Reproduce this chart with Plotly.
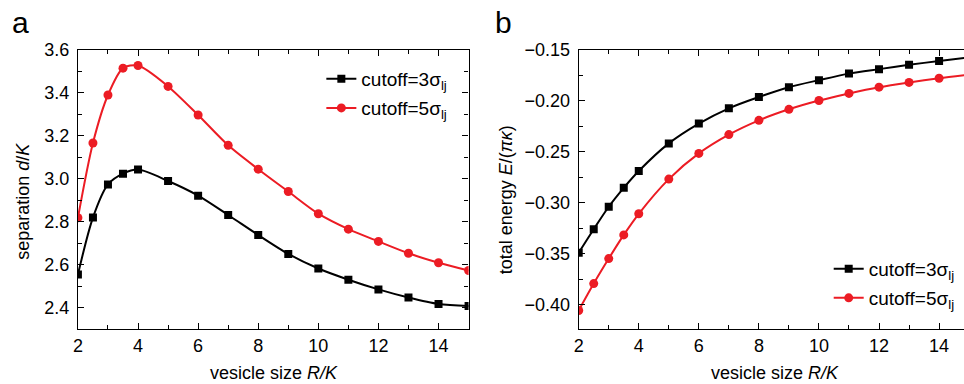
import plotly.graph_objects as go

# ---- data ----
R = [2, 2.5, 3, 3.5, 4, 5, 6, 7, 8, 9, 10, 11, 12, 13, 14, 15]

sep_3 = [2.554, 2.819, 2.973, 3.023, 3.042, 2.989, 2.921, 2.831, 2.738, 2.650,
         2.582, 2.530, 2.485, 2.447, 2.417, 2.408]
sep_5 = [2.818, 3.166, 3.389, 3.514, 3.526, 3.429, 3.296, 3.155, 3.044, 2.940,
         2.837, 2.765, 2.708, 2.653, 2.609, 2.573]

en_3 = [-0.349, -0.326, -0.304, -0.2855, -0.269, -0.2419, -0.2225, -0.2075,
        -0.1964, -0.1868, -0.1799, -0.1735, -0.1691, -0.1649, -0.1611, -0.1575]
en_5 = [-0.4057, -0.3793, -0.3548, -0.3316, -0.3109, -0.2769, -0.2517, -0.2333,
        -0.2193, -0.2085, -0.1999, -0.1929, -0.1868, -0.1821, -0.1780, -0.1745]

name_3 = "cutoff=3σ<sub>lj</sub>"
name_5 = "cutoff=5σ<sub>lj</sub>"

BLACK = "#000000"
RED = "#ec1c24"
FONT = "Liberation Sans, Arial, sans-serif"
W, H = 964, 384

fig = go.Figure()

def add(x, y, name, color, symbol, size, xa, ya, leg):
    fig.add_trace(go.Scatter(
        x=x, y=y, name=name, mode="lines+markers",
        line=dict(color=color, width=2, shape="spline", smoothing=0.8),
        marker=dict(symbol=symbol, size=size, color=color),
        xaxis=xa, yaxis=ya, legend=leg, cliponaxis=True))

add(R, sep_3, name_3, BLACK, "square", 8, "x", "y", "legend")
add(R, sep_5, name_5, RED, "circle", 9, "x", "y", "legend2")
add(R, en_3, name_3, BLACK, "square", 8, "x2", "y2", "legend3")
add(R, en_5, name_5, RED, "circle", 9, "x2", "y2", "legend4")

def px_x(p):
    return p / W

def px_y(p):
    return 1 - p / H

ydom = [px_y(327.7), px_y(40.7)]

axis_common = dict(
    showline=True, linecolor="black", linewidth=1.2,
    ticks="inside", ticklen=6, tickwidth=1, tickcolor="black",
    showgrid=False, zeroline=False,
    tickfont=dict(family=FONT, size=18, color="black"),
)

fig.update_layout(
    width=W, height=H,
    margin=dict(l=0, r=0, t=0, b=0),
    paper_bgcolor="white", plot_bgcolor="white",
    font=dict(family=FONT, size=18, color="black"),
    xaxis=dict(domain=[px_x(73.3), px_x(466)], range=[2, 15], dtick=2, tick0=2,
               mirror="allticks", anchor="y", ticklabelstandoff=0,
               minor=dict(dtick=1, ticklen=4, ticks="inside", tickcolor="black"),
               **axis_common),
    yaxis=dict(domain=ydom, range=[2.3, 3.6], dtick=0.2, tick0=2.4, tickformat=".1f",
               mirror="allticks", anchor="x", ticklabelstandoff=4,
               minor=dict(dtick=0.1, ticklen=4, ticks="inside", tickcolor="black"),
               **axis_common),
    xaxis2=dict(domain=[px_x(576.7), 1.0], range=[2, 14.83], dtick=2, tick0=2,
                mirror="allticks", anchor="y2", ticklabelstandoff=0,
                minor=dict(dtick=1, ticklen=4, ticks="inside", tickcolor="black"),
                **axis_common),
    yaxis2=dict(domain=ydom, range=[-0.424, -0.15], dtick=0.05, tick0=-0.4, tickformat=".2f",
                mirror=False, anchor="x2", ticklabelstandoff=4,
                minor=dict(dtick=0.025, ticklen=4, ticks="inside", tickcolor="black"),
                **axis_common),
    showlegend=True,
)

def leg(xp, yp):
    return dict(x=px_x(xp), y=px_y(yp), xanchor="left", yanchor="middle",
                bgcolor="rgba(0,0,0,0)", borderwidth=0,
                font=dict(family=FONT, size=19, color="black"))

fig.update_layout(
    legend=leg(318, 70.7),
    legend2=leg(318, 100.7),
    legend3=leg(828, 265.7),
    legend4=leg(828, 295.7),
)

ann = []
ann.append(dict(text="a", x=px_x(5), y=px_y(13), xanchor="left", yanchor="middle",
                font=dict(family=FONT, size=30, color="black")))
ann.append(dict(text="b", x=px_x(491), y=px_y(13), xanchor="left", yanchor="middle",
                font=dict(family=FONT, size=30, color="black")))
ann.append(dict(text="vesicle size <i>R/K</i>", x=px_x(270), y=px_y(373),
                xanchor="center", yanchor="middle"))
ann.append(dict(text="vesicle size <i>R/K</i>", x=px_x(774), y=px_y(373),
                xanchor="center", yanchor="middle"))
ann.append(dict(text="separation <i>d</i>/<i>K</i>", x=px_x(18), y=px_y(196),
                xanchor="center", yanchor="middle", textangle=-90))
ann.append(dict(text="total energy <i>E</i>/(<i>πκ</i>)", x=px_x(504), y=px_y(195),
                xanchor="center", yanchor="middle", textangle=-90))
for a in ann:
    a.update(xref="paper", yref="paper", showarrow=False)
    a.setdefault("font", dict(family=FONT, size=18, color="black"))
fig.update_layout(annotations=ann)

fig.write_html(
    "out.html",
    config={"displayModeBar": False},
    post_script="document.body.style.margin='0';document.body.style.padding='0';"
                "document.documentElement.style.overflow='hidden';"
                "document.body.style.overflow='hidden';",
)
